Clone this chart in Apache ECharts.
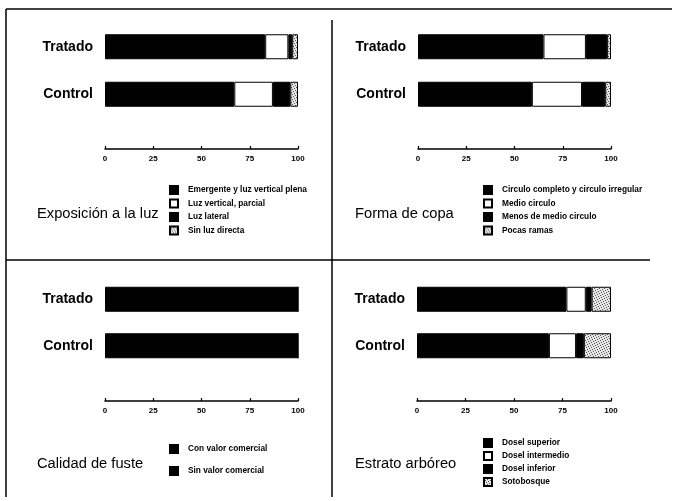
<!DOCTYPE html>
<html>
<head>
<meta charset="utf-8">
<script src="https://cdn.jsdelivr.net/npm/echarts@6/dist/echarts.min.js"></script>
<style>
html,body{margin:0;padding:0;background:#fff;}
#c{width:678px;height:501px;}
</style>
</head>
<body>
<div id="c"></div>
<script>
// ---- data ----
const categories = ['Control', 'Tratado'];
const xTicks = [0, 25, 50, 75, 100];

const luzNames = ['Emergente y luz vertical plena', 'Luz vertical, parcial', 'Luz lateral', 'Sin luz directa'];
const luzValues = [[67, 83], [20, 12], [9, 2], [4, 3]]; // per series: [Control, Tratado]

const copaNames = ['Circulo completo y circulo irregular', 'Medio circulo', 'Menos de medio circulo', 'Pocas ramas'];
const copaValues = [[59, 65], [26, 22], [12, 11], [3, 2]];

const fusteNames = ['Con valor comercial', 'Sin valor comercial'];
const fusteValues = [[100, 100], [0, 0]];

const estratoNames = ['Dosel superior', 'Dosel intermedio', 'Dosel inferior', 'Sotobosque'];
const estratoValues = [[68, 77], [14, 10], [4, 3], [14, 10]];

const panelTitles = ['Exposición a la luz', 'Forma de copa', 'Calidad de fuste', 'Estrato arbóreo'];

// ---- stipple pattern ----
function dotPattern() {
  const cv = document.createElement('canvas');
  cv.width = 5; cv.height = 5;
  const ctx = cv.getContext('2d');
  ctx.fillStyle = '#e6e6e6';
  ctx.fillRect(0, 0, 5, 5);
  ctx.fillStyle = '#555';
  [[0,0],[3,1],[1,2],[4,3],[2,4]].forEach(d => ctx.fillRect(d[0], d[1], 1, 1));
  return {image: cv, repeat: 'repeat'};
}
const pat = dotPattern();
const fills4 = ['#000', '#fff', '#000', pat];
const fills2 = ['#000', '#000'];

const FONT = '"Liberation Sans", Arial, sans-serif';

const panels = [
  {names: luzNames, values: luzValues, fills: fills4, grid: {left: 105, width: 193, top: 23, height: 95}, offset: 31,
   legend: {left: 169, top: 185, gap: 3.5}, title: {left: 37, top: 206}},
  {names: copaNames, values: copaValues, fills: fills4, grid: {left: 418, width: 193, top: 23, height: 95}, offset: 31,
   legend: {left: 483, top: 185, gap: 3.5}, title: {left: 355, top: 206}},
  {names: fusteNames, values: fusteValues, fills: fills2, grid: {left: 105, width: 193, top: 276, height: 93}, offset: 32,
   legend: {left: 169, top: 444, gap: 12}, title: {left: 37, top: 456}},
  {names: estratoNames, values: estratoValues, fills: fills4, grid: {left: 417, width: 194, top: 276, height: 93}, offset: 32,
   legend: {left: 483, top: 438, gap: 3}, title: {left: 355, top: 456}}
];

const grids = [], xAxes = [], yAxes = [], series = [], legends = [], titles = [];
panels.forEach((p, i) => {
  grids.push(Object.assign({containLabel: false}, p.grid));
  xAxes.push({
    type: 'value', gridIndex: i, min: xTicks[0], max: xTicks[xTicks.length - 1], interval: 25,
    offset: p.offset,
    axisLine: {show: true, lineStyle: {color: '#000', width: 1.5}},
    axisTick: {show: true, inside: true, length: 3, lineStyle: {color: '#000', width: 1.2}},
    splitLine: {show: false},
    axisLabel: {color: '#000', fontSize: 8, fontWeight: 'bold', fontFamily: FONT, margin: 6}
  });
  yAxes.push({
    type: 'category', gridIndex: i, data: categories,
    axisLine: {show: false}, axisTick: {show: false},
    axisLabel: {color: '#000', fontSize: 14, fontWeight: 'bold', fontFamily: FONT, margin: 12}
  });
  p.names.forEach((n, k) => {
    series.push({
      type: 'bar', name: n, xAxisIndex: i, yAxisIndex: i, stack: 'p' + i,
      barWidth: 25, data: p.values[k],
      itemStyle: {color: p.fills[k], borderColor: '#000', borderWidth: 1},
      emphasis: {disabled: true}, animation: false
    });
  });
  legends.push({
    data: p.names, orient: 'vertical', left: p.legend.left, top: p.legend.top, padding: 0,
    itemWidth: 8, itemHeight: 8, itemGap: p.legend.gap, icon: 'rect', selectedMode: false,
    textStyle: {color: '#000', fontSize: 8.3, fontWeight: 'bold', fontFamily: FONT, padding: [0, 0, 0, 5]}
  });
  titles.push({
    text: panelTitles[i], left: p.title.left, top: p.title.top, padding: 0,
    textStyle: {color: '#000', fontSize: 14.7, fontWeight: 'normal', fontFamily: FONT}
  });
});

const chart = echarts.init(document.getElementById('c'), null, {renderer: 'canvas'});
chart.setOption({
  backgroundColor: '#fff',
  animation: false,
  title: titles,
  grid: grids, xAxis: xAxes, yAxis: yAxes, series: series, legend: legends,
  graphic: [
    {type: 'line', shape: {x1: 6, y1: 9, x2: 672, y2: 9}, style: {stroke: '#000', lineWidth: 1.5}},
    {type: 'line', shape: {x1: 6, y1: 9, x2: 6, y2: 497}, style: {stroke: '#000', lineWidth: 1.5}},
    {type: 'line', shape: {x1: 6, y1: 260, x2: 650, y2: 260}, style: {stroke: '#000', lineWidth: 1.5}},
    {type: 'line', shape: {x1: 332, y1: 20, x2: 332, y2: 497}, style: {stroke: '#000', lineWidth: 1.5}}
  ]
});
</script>
</body>
</html>
